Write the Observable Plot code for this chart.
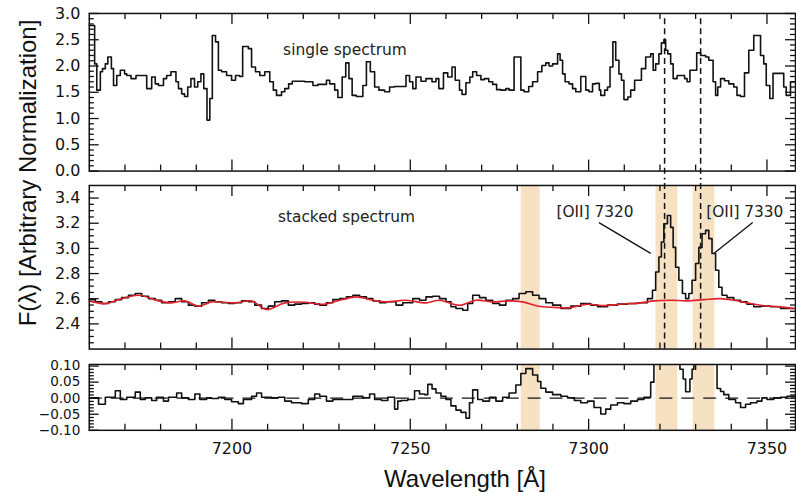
<!DOCTYPE html>
<html><head><meta charset="utf-8">
<script src="https://cdn.jsdelivr.net/npm/d3@7"></script>
<script src="https://cdn.jsdelivr.net/npm/@observablehq/plot@0.6"></script>
<style>
html,body{margin:0;padding:0;background:#fff;overflow:hidden;}
#fig{position:relative;width:796px;height:493px;overflow:hidden;font-family:"Liberation Sans",Arial,sans-serif;color:#111;}
#fig svg{position:absolute;left:0;}
.ylab{position:absolute;left:28px;top:173px;transform:translate(-50%,-50%) rotate(-90deg);white-space:nowrap;font-size:24px;line-height:1;}
.xlab{position:absolute;left:465px;top:467px;transform:translateX(-50%);white-space:nowrap;font-size:24px;line-height:1;}
</style></head>
<body><div id="fig"></div>
<script>
// ---- data ----
const singleWave = [7160.0,7161.5,7162.1,7163.1,7163.7,7164.5,7165.2,7166.2,7166.8,7167.7,
 7168.7,7169.9,7170.5,7171.7,7173.1,7176.1,7177.5,7178.5,7179.4,7180.8,
 7181.7,7182.9,7184.3,7185.0,7185.9,7186.7,7187.6,7188.5,7189.5,7190.4,
 7191.3,7192.1,7193.0,7193.8,7194.5,7195.4,7196.2,7197.1,7198.5,7199.9,
 7201.0,7202.2,7203.0,7204.6,7205.5,7206.6,7207.8,7209.2,7210.6,7211.6,
 7212.5,7213.9,7214.8,7215.9,7216.9,7220.4,7222.7,7224.1,7226.5,7227.4,
 7228.8,7229.7,7230.9,7231.9,7232.8,7233.7,7234.9,7236.7,7237.7,7238.8,
 7240.0,7241.2,7242.8,7244.2,7245.6,7248.8,7249.8,7250.7,7251.6,7253.0,
 7254.4,7256.1,7257.2,7258.0,7259.3,7260.5,7261.7,7262.6,7263.8,7264.5,
 7265.6,7266.7,7267.5,7268.6,7269.8,7270.8,7272.0,7273.1,7274.2,7275.4,
 7276.8,7277.7,7279.1,7281.0,7281.9,7283.2,7284.3,7285.7,7286.9,7288.0,
 7288.9,7289.9,7291.3,7292.0,7292.7,7293.4,7294.5,7295.5,7296.4,7297.8,
 7299.2,7300.1,7301.1,7302.0,7303.0,7303.4,7304.5,7305.3,7306.0,7306.8,
 7307.6,7308.5,7309.2,7309.9,7311.0,7311.8,7312.9,7314.8,7316.0,7317.4,
 7318.1,7318.8,7319.7,7320.4,7321.1,7321.6,7322.2,7323.0,7323.7,7324.8,
 7326.9,7327.6,7328.4,7330.3,7331.4,7332.8,7333.7,7334.9,7335.6,7336.2,
 7337.0,7338.1,7339.3,7340.7,7341.6,7342.6,7343.7,7344.9,7346.3,7348.2,
 7349.1,7349.8,7350.8,7351.7,7354.7,7355.4,7356.6,7358.0];
const singleFlux = [2.77,2.04,1.54,1.89,1.95,2.04,2.17,1.95,1.63,1.82,
 1.92,1.85,1.82,1.76,1.82,1.57,1.79,1.66,1.63,1.76,
 1.82,1.89,1.70,1.57,1.47,1.42,1.60,1.76,1.60,1.70,
 1.85,1.57,0.97,1.38,2.58,2.46,1.92,1.89,1.82,1.73,
 1.82,1.80,2.37,2.33,1.98,1.89,1.82,1.89,1.70,1.54,
 1.44,1.51,1.57,1.66,1.71,1.70,1.63,1.65,1.73,1.66,
 1.54,1.40,1.79,2.06,1.76,1.44,1.42,1.63,2.08,1.89,
 1.60,1.54,1.51,1.60,1.61,1.82,1.70,1.57,1.79,1.71,
 1.76,1.70,1.76,1.57,1.87,1.79,1.98,1.73,1.54,1.46,
 1.68,1.79,1.89,1.82,1.74,1.76,1.70,1.65,1.55,1.54,
 1.57,1.54,2.17,1.54,1.51,1.61,1.70,1.89,2.01,2.06,
 2.00,2.04,2.23,2.11,1.85,1.70,1.66,1.57,1.51,1.80,
 1.54,1.51,1.66,1.67,1.54,1.44,1.54,1.60,1.98,2.46,
 2.11,1.85,1.73,1.36,1.41,1.54,1.73,1.95,2.17,2.23,
 1.92,2.04,2.23,2.44,2.50,2.30,2.23,2.04,1.76,1.82,
 1.76,1.70,1.92,2.25,2.20,2.17,2.11,1.70,1.44,1.60,
 1.76,1.72,1.66,1.60,1.44,1.42,1.87,2.30,2.58,2.20,
 2.04,1.63,1.38,1.86,1.60,1.44,1.70,1.70];

const stackWave = [7160.0,7161.7,7163.5,7165.4,7167.3,7169.1,7171.0,7172.9,7174.7,7176.6,
 7178.5,7180.3,7182.2,7184.1,7185.9,7187.8,7189.6,7191.5,7193.4,7195.2,
 7197.1,7199.0,7200.8,7202.7,7204.6,7206.4,7208.3,7210.2,7212.0,7213.9,
 7215.8,7217.6,7219.5,7221.4,7223.2,7224.6,7226.5,7228.3,7230.2,7232.1,
 7233.9,7235.8,7237.7,7239.5,7241.4,7243.2,7246.0,7247.9,7250.7,7252.6,
 7254.4,7256.3,7258.2,7260.0,7261.4,7262.8,7264.7,7266.1,7267.5,7269.4,
 7271.2,7273.1,7275.0,7276.8,7278.7,7280.5,7282.4,7284.3,7286.1,7288.0,
 7289.9,7292.2,7295.0,7297.8,7300.6,7302.5,7305.3,7308.1,7310.9,7313.7,
 7316.5,7317.9,7318.8,7319.7,7320.4,7321.1,7322.1,7323.0,7323.7,7324.4,
 7325.3,7326.3,7327.2,7328.1,7329.0,7330.0,7330.9,7331.8,7332.8,7333.7,
 7334.6,7335.6,7336.5,7337.4,7338.8,7340.7,7342.6,7344.4,7346.3,7348.2,
 7351.0,7353.8,7358.0];
const stackFlux = [2.593,2.576,2.562,2.576,2.593,2.609,2.628,2.641,2.620,2.601,
 2.588,2.568,2.576,2.601,2.576,2.549,2.541,2.568,2.588,2.576,
 2.568,2.562,2.568,2.583,2.576,2.549,2.522,2.541,2.576,2.583,
 2.549,2.557,2.562,2.568,2.557,2.549,2.568,2.593,2.601,2.615,
 2.628,2.615,2.601,2.583,2.568,2.576,2.549,2.568,2.601,2.588,
 2.615,2.620,2.601,2.576,2.536,2.522,2.509,2.562,2.628,2.609,
 2.588,2.562,2.549,2.588,2.601,2.641,2.655,2.628,2.601,2.568,
 2.549,2.522,2.541,2.562,2.549,2.536,2.549,2.557,2.562,2.568,
 2.601,2.668,2.813,2.932,3.051,3.196,3.262,3.167,3.008,2.850,
 2.747,2.642,2.601,2.642,2.747,2.880,3.008,3.117,3.143,3.078,
 2.959,2.826,2.691,2.628,2.609,2.588,2.575,2.556,2.536,2.541,
 2.536,2.522,2.522];

const contWave = [7160.0,7164.5,7168.2,7173.8,7179.4,7183.1,7186.8,7190.6,7194.3,7200.8,
 7205.5,7209.7,7214.8,7220.4,7225.5,7230.2,7234.9,7239.5,7243.2,7248.8,
 7254.4,7258.2,7263.8,7268.4,7273.1,7277.7,7281.5,7286.1,7291.7,7295.0,
 7299.7,7304.3,7309.0,7314.6,7318.3,7323.0,7327.6,7332.3,7337.0,7340.7,
 7344.4,7348.2,7353.8,7358.0];
const contFlux = [2.583,2.561,2.593,2.628,2.583,2.567,2.583,2.540,2.575,2.567,
 2.583,2.514,2.567,2.572,2.556,2.588,2.615,2.588,2.575,2.588,
 2.567,2.588,2.548,2.588,2.575,2.583,2.575,2.540,2.529,2.529,
 2.556,2.545,2.556,2.567,2.583,2.588,2.583,2.593,2.601,2.588,
 2.567,2.548,2.535,2.521];

const residWave = [7160.0,7162.6,7164.5,7167.3,7168.7,7170.5,7172.9,7174.3,7175.7,7177.5,
 7178.9,7180.8,7182.2,7184.5,7185.9,7187.8,7189.6,7191.0,7192.9,7194.3,
 7196.2,7198.0,7199.9,7201.8,7203.2,7205.5,7206.9,7208.3,7211.1,7213.0,
 7214.8,7216.7,7219.5,7221.4,7223.2,7224.6,7226.5,7228.3,7233.9,7236.7,
 7238.6,7240.0,7241.9,7243.7,7245.6,7246.5,7247.4,7249.3,7251.2,7252.6,
 7254.0,7254.9,7256.1,7257.2,7258.6,7260.0,7261.4,7262.8,7264.2,7265.6,
 7266.6,7267.5,7268.9,7270.3,7272.2,7274.0,7275.9,7277.7,7279.6,7281.0,
 7282.4,7284.3,7285.7,7286.6,7288.0,7289.9,7292.2,7294.1,7296.0,7297.8,
 7299.7,7301.5,7303.4,7304.8,7306.2,7308.1,7309.9,7311.8,7313.7,7315.5,
 7317.4,7318.3,7319.3,7320.2,7322.1,7323.5,7324.4,7325.0,7325.6,7326.5,
 7327.2,7328.4,7329.0,7329.5,7330.4,7331.8,7333.2,7334.6,7335.6,7336.0,
 7337.0,7337.9,7339.3,7341.2,7342.6,7344.0,7345.4,7347.2,7348.6,7350.0,
 7351.9,7353.8,7355.6,7358.0];
const residFlux = [0.001,-0.019,0.003,0.023,-0.004,0.003,0.019,-0.004,0.001,-0.007,
 0.003,-0.009,0.003,0.016,0.001,-0.004,0.013,-0.004,0.001,-0.001,
 0.003,-0.004,-0.011,-0.017,-0.004,0.006,0.016,0.003,0.001,0.003,
 -0.009,-0.014,-0.017,-0.004,0.013,0.006,-0.009,-0.004,0.006,0.001,
 0.013,-0.004,-0.007,0.003,-0.034,-0.009,-0.007,-0.004,0.023,0.013,
 0.011,0.043,0.029,0.016,0.006,-0.004,-0.024,-0.037,-0.044,-0.062,
 -0.014,0.026,-0.004,-0.009,0.003,-0.009,0.003,0.016,0.041,0.077,
 0.092,0.072,0.052,0.031,0.019,0.011,0.006,0.001,-0.007,-0.014,
 -0.009,-0.029,-0.049,-0.034,-0.021,-0.014,-0.017,-0.009,-0.004,0.003,
 0.05,0.2,0.4,0.6,0.7,0.5,0.3,0.15,0.09,0.06,
 0.02,0.06,0.09,0.2,0.4,0.56,0.5,0.3,0.15,0.03,
 0.021,0.011,-0.004,-0.014,-0.029,-0.019,-0.014,-0.009,0.001,-0.004,
 0.001,0.003,0.006,0.006];

const bandLo = [7281.1, 7318.9, 7329.3];
const bandHi = [7286.4, 7325.0, 7335.4];
const lineWave = [7321.3, 7331.4];

const annotText = ["[OII] 7320", "[OII] 7330"];
const annotWave = [7301.8, 7343.8];
const annotFlux = [3.285, 3.285];
const leaderWave1 = [7302.9, 7346.0];
const leaderFlux1 = [3.205, 3.205];
const leaderWave2 = [7317.4, 7335.1];
const leaderFlux2 = [2.960, 2.960];

const xMajor = [7200, 7250, 7300, 7350];
const xMinor = [7170,7180,7190,7210,7220,7230,7240,7260,7270,7280,7290,7310,7320,7330,7340];
const y1Major = [0, 0.5, 1.0, 1.5, 2.0, 2.5, 3.0];
const y1Minor = [0.1,0.2,0.3,0.4,0.6,0.7,0.8,0.9,1.1,1.2,1.3,1.4,1.6,1.7,1.8,1.9,2.1,2.2,2.3,2.4,2.6,2.7,2.8,2.9];
const y2Major = [2.4, 2.6, 2.8, 3.0, 3.2, 3.4];
const y2Minor = [2.25,2.3,2.35,2.45,2.5,2.55,2.65,2.7,2.75,2.85,2.9,2.95,3.05,3.1,3.15,3.25,3.3,3.35,3.45];
const y3Major = [-0.10, -0.05, 0.00, 0.05, 0.10];
const y3Minor = [-0.09,-0.08,-0.07,-0.06,-0.04,-0.03,-0.02,-0.01,0.01,0.02,0.03,0.04,0.06,0.07,0.08,0.09];

// ---- layout ----
const W = 798, ML = 89, MR = 1, FW = W - ML - MR;
const XDOM = [7160, 7358];
const INK = "#111";
const BAND = "#f6e1c2";
const TXT = "'DejaVu Sans', sans-serif";
const baseStyle = {fontFamily: TXT, fontSize: "16px", color: INK, background: "transparent", overflow: "visible"};

const singleData = singleWave.map((w, i) => ({w, f: singleFlux[i]}));
const stackData = stackWave.map((w, i) => ({w, f: stackFlux[i]}));
const contData = contWave.map((w, i) => ({w, f: contFlux[i]}));
const residData = residWave.map((w, i) => ({w, f: residFlux[i]}));
const bands = bandLo.map((lo, i) => ({lo, hi: bandHi[i]}));
const annots = annotText.map((t, i) => ({t, w: annotWave[i], f: annotFlux[i]}));
const leaders = leaderWave1.map((w, i) => ({w1: w, f1: leaderFlux1[i], w2: leaderWave2[i], f2: leaderFlux2[i]}));

function tickMarks(yMaj, yMin, fh) {
  const s = {stroke: INK, strokeWidth: 1.3};
  return [
    Plot.tickX(xMajor, {x: d => d, insetTop: fh - 11, ...s}),
    Plot.tickX(xMinor, {x: d => d, insetTop: fh - 6, ...s}),
    Plot.tickX(xMajor, {x: d => d, insetBottom: fh - 11, ...s}),
    Plot.tickX(xMinor, {x: d => d, insetBottom: fh - 6, ...s}),
    Plot.tickY(yMaj, {y: d => d, insetRight: FW - 10, ...s}),
    Plot.tickY(yMin, {y: d => d, insetRight: FW - 5, ...s}),
    Plot.tickY(yMaj, {y: d => d, insetLeft: FW - 10, ...s}),
    Plot.tickY(yMin, {y: d => d, insetLeft: FW - 5, ...s}),
    Plot.frame({stroke: INK, strokeWidth: 1.5})
  ];
}

// Panel 1: single spectrum
const fh1 = 158;
const p1 = Plot.plot({
  width: W, height: 180, marginLeft: ML, marginRight: MR, marginTop: 13, marginBottom: 9,
  style: baseStyle,
  x: {domain: XDOM, axis: null},
  y: {domain: [0, 3], ticks: y1Major, tickSize: 0, tickPadding: 9, tickFormat: ".1f", label: null},
  marks: [
    Plot.ruleX(lineWave, {x: d => d, y1: () => 2.9, y2: () => -0.17, stroke: INK, strokeWidth: 1.5, strokeDasharray: "6,4"}),
    Plot.line(singleData, {x: "w", y: "f", curve: "step-after", stroke: INK, strokeWidth: 1.6}),
    Plot.text(["single spectrum"], {x: () => 7231.7, y: () => 2.30, text: d => d, fontSize: 15.5, fill: "#222"}),
    ...tickMarks(y1Major, y1Minor, fh1)
  ]
});
p1.style.top = "0px";

// Panel 2: stacked spectrum
const fh2 = 164;
const p2 = Plot.plot({
  width: W, height: 178, marginLeft: ML, marginRight: MR, marginTop: 7, marginBottom: 7,
  style: baseStyle,
  x: {domain: XDOM, axis: null},
  y: {domain: [2.2, 3.5], ticks: y2Major, tickSize: 0, tickPadding: 9, tickFormat: ".1f", label: null},
  marks: [
    Plot.rect(bands, {x1: "lo", x2: "hi", fill: BAND}),
    Plot.ruleX(lineWave, {x: d => d, y1: () => 2.2, y2: () => 3.556, stroke: INK, strokeWidth: 1.5, strokeDasharray: "6,4"}),
    Plot.line(stackData, {x: "w", y: "f", curve: "step-after", stroke: INK, strokeWidth: 1.6}),
    Plot.line(contData, {x: "w", y: "f", curve: "catmull-rom", stroke: "#e0212b", strokeWidth: 1.6}),
    Plot.link(leaders, {x1: "w1", y1: "f1", x2: "w2", y2: "f2", stroke: INK, strokeWidth: 1.3}),
    Plot.text(annots, {x: "w", y: "f", text: "t", fontSize: 15.4, fill: "#222"}),
    Plot.text(["stacked spectrum"], {x: () => 7232.1, y: () => 3.245, text: d => d, fontSize: 15.4, fill: "#222"}),
    ...tickMarks(y2Major, y2Minor, fh2)
  ]
});
p2.style.top = "178px";

// Panel 3: residual (labels slightly smaller so the tightly spaced ticks do not collide)
const fh3 = 66;
const p3 = Plot.plot({
  width: W, height: 137, marginLeft: ML, marginRight: MR, marginTop: 8, marginBottom: 63,
  style: baseStyle,
  x: {domain: XDOM, axis: null},
  y: {axis: null, domain: [-0.1, 0.105]},
  marks: [
    Plot.rect(bands, {x1: "lo", x2: "hi", fill: BAND}),
    Plot.ruleY([0], {y: d => d, stroke: INK, strokeWidth: 1.3, strokeDasharray: "13,9"}),
    Plot.line(residData, {x: "w", y: "f", curve: "step-after", stroke: INK, strokeWidth: 1.6, clip: true}),
    Plot.axisX(xMajor, {tickSize: 0, tickPadding: 12, tickFormat: "d", label: null, fontSize: 16}),
    Plot.axisY(y3Major, {tickSize: 0, tickPadding: 9, tickFormat: ".2f", label: null, fontSize: 13.6}),
    ...tickMarks(y3Major, y3Minor, fh3)
  ]
});
p3.style.top = "356px";

const fig = document.getElementById("fig");
fig.append(p1, p2, p3);
const yl = document.createElement("div");
yl.className = "ylab"; yl.textContent = "F(λ) [Arbitrary Normalization]";
const xl = document.createElement("div");
xl.className = "xlab"; xl.textContent = "Wavelength [Å]";
fig.append(yl, xl);
</script>
</body></html>
